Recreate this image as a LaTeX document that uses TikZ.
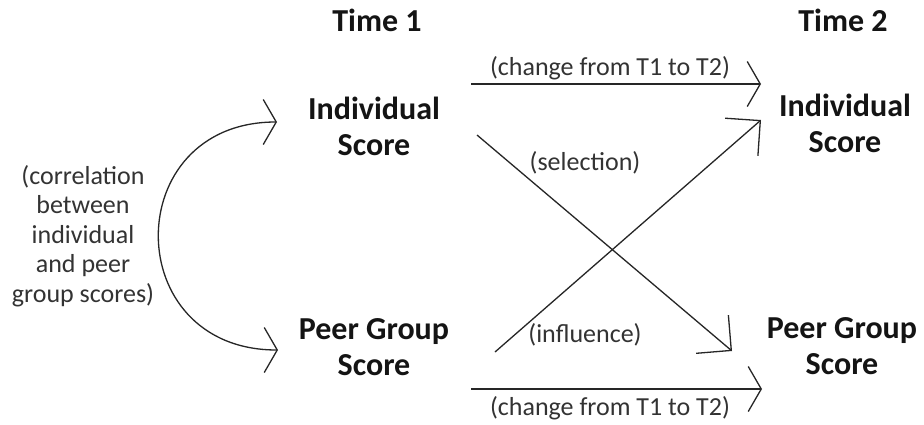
\documentclass[tikz,border=0pt]{standalone}
\usepackage{fontspec}
\setmainfont{Carlito}
\usetikzlibrary{arrows.meta}
\begin{document}
\begin{tikzpicture}[x=1pt,y=-1pt,
  lbl/.style={inner sep=0pt,align=center,font=\fontsize{32}{36}\selectfont\bfseries,text=black!92},
  note/.style={inner sep=0pt,align=center,font=\fontsize{26}{29.5}\selectfont,text=black!80},
  conn/.style={line width=1.3pt,black!85},
  openhead/.style={-{Straight Barb[length=13pt,width=45pt,line width=1.3pt]}},
  twohead/.style={{Straight Barb[length=13pt,width=45pt,line width=1.3pt]}-{Straight Barb[length=13pt,width=45pt,line width=1.3pt]}},
  cornerhead/.style={-{Straight Barb[length=25pt,width=50pt,line width=1.3pt]}}]
\useasboundingbox (0,0) rectangle (924,424);
\fill[white] (0,0) rectangle (924,424);
% headings
\node[lbl] (t1) at (377,20) {Time 1};
\node[lbl] (t2) at (843,20) {Time 2};
% boxes
\node[lbl] (ind1) at (374,126) {Individual\\Score};
\node[lbl] (ind2) at (845,123) {Individual\\Score};
\node[lbl] (peer1) at (374,347) {Peer Group\\Score};
\node[lbl] (peer2) at (842,346) {Peer Group\\Score};
% labels
\node[note] (corr) at (83,236) {(correlation\\between\\individual\\and peer\\group scores)};
\node[note] (chg1) at (610,68) {(change from T1 to T2)};
\node[note] (chg2) at (610,408) {(change from T1 to T2)};
\node[note] (sel) at (585,163) {(selection)};
\node[note] (inf) at (585,335) {(influence)};
% connector ends
\coordinate (cTop) at (277,122);
\coordinate (cBot) at (278,350);
\coordinate (hS) at (471,84);
\coordinate (hE) at (761,84);
\coordinate (bS) at (471,389);
\coordinate (bE) at (762,389);
\coordinate (sS) at (477,135);
\coordinate (sE) at (732,351);
\coordinate (iS) at (495,352);
\coordinate (iE) at (761,120);
% connectors
\draw[conn,twohead] (cBot) .. controls (119,350) and (119,122) .. (cTop);
\draw[conn,openhead] (hS) -- (hE);
\draw[conn,openhead] (bS) -- (bE);
\draw[conn,cornerhead] (sS) -- (sE);
\draw[conn,cornerhead] (iS) -- (iE);
\end{tikzpicture}
\end{document}
